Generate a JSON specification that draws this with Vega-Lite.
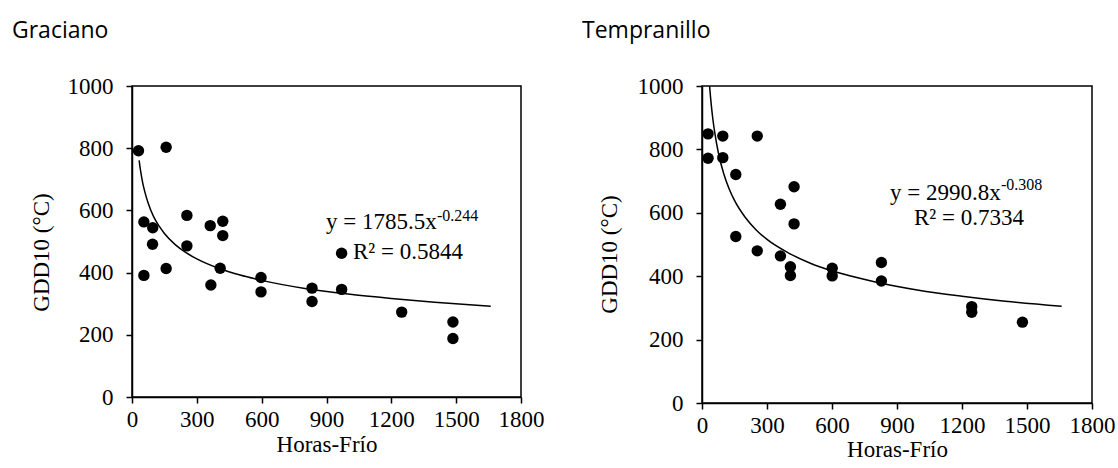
{
 "$schema": "https://vega.github.io/schema/vega-lite/v6.json",
 "autosize": {"type": "pad"},
 "padding": {"left": 11, "top": 19, "right": 0, "bottom": 0},
 "bounds": "flush",
 "spacing": 181,
 "config": {
  "view": {"stroke": "#000", "strokeWidth": 1.5},
  "axis": {"domainColor": "#000", "domainWidth": 1.5, "tickColor": "#000", "tickWidth": 1.5, "tickSize": 6,
   "labelFont": "Liberation Serif", "labelFontSize": 23, "labelColor": "#000", "labelPadding": 13,
   "titleFont": "Liberation Serif", "titleFontSize": 23, "titleFontWeight": "normal", "titleColor": "#000",
   "grid": false, "labelFlush": false, "labelOverlap": false, "format": "d"},
  "axisX": {"labelPadding": 5},
  "title": {"font": "Open Sans", "fontSize": 23, "fontWeight": "normal", "color": "#000", "anchor": "start", "frame": "group", "baseline": "alphabetic", "offset": 32, "dx": -120},
  "text": {"font": "Liberation Serif", "fontSize": 23, "color": "#000"}
 },
 "datasets": {
  "one": [{}],
  "gra_pts": [
   {"horas": 30, "gdd": 792}, {"horas": 158, "gdd": 803}, {"horas": 55, "gdd": 563}, {"horas": 96, "gdd": 544},
   {"horas": 95, "gdd": 491}, {"horas": 55, "gdd": 391}, {"horas": 158, "gdd": 413}, {"horas": 254, "gdd": 584},
   {"horas": 254, "gdd": 486}, {"horas": 362, "gdd": 551}, {"horas": 420, "gdd": 565}, {"horas": 420, "gdd": 519},
   {"horas": 365, "gdd": 360}, {"horas": 408, "gdd": 414}, {"horas": 597, "gdd": 384}, {"horas": 597, "gdd": 338},
   {"horas": 833, "gdd": 350}, {"horas": 833, "gdd": 307}, {"horas": 970, "gdd": 346}, {"horas": 970, "gdd": 462},
   {"horas": 1248, "gdd": 273}, {"horas": 1485, "gdd": 241}, {"horas": 1485, "gdd": 188}
  ],
  "tem_pts": [
   {"horas": 28, "gdd": 849}, {"horas": 28, "gdd": 772}, {"horas": 96, "gdd": 842}, {"horas": 96, "gdd": 774},
   {"horas": 156, "gdd": 721}, {"horas": 156, "gdd": 525}, {"horas": 255, "gdd": 842}, {"horas": 255, "gdd": 480},
   {"horas": 362, "gdd": 627}, {"horas": 425, "gdd": 682}, {"horas": 425, "gdd": 565}, {"horas": 362, "gdd": 464},
   {"horas": 408, "gdd": 430}, {"horas": 408, "gdd": 402}, {"horas": 601, "gdd": 425}, {"horas": 601, "gdd": 401},
   {"horas": 828, "gdd": 443}, {"horas": 828, "gdd": 385}, {"horas": 1245, "gdd": 304}, {"horas": 1245, "gdd": 286},
   {"horas": 1479, "gdd": 255}
  ],
  "gra_fit": [
   {"horas": 33, "gdd": 761}, {"horas": 40, "gdd": 726}, {"horas": 50, "gdd": 687}, {"horas": 60, "gdd": 658},
   {"horas": 75, "gdd": 623}, {"horas": 100, "gdd": 580}, {"horas": 125, "gdd": 550}, {"horas": 150, "gdd": 526},
   {"horas": 200, "gdd": 490}, {"horas": 250, "gdd": 464}, {"horas": 300, "gdd": 444}, {"horas": 400, "gdd": 414},
   {"horas": 500, "gdd": 392}, {"horas": 600, "gdd": 375}, {"horas": 800, "gdd": 349}, {"horas": 1000, "gdd": 331},
   {"horas": 1200, "gdd": 317}, {"horas": 1400, "gdd": 305}, {"horas": 1660, "gdd": 292}
  ],
  "tem_fit": [
   {"horas": 35, "gdd": 1000}, {"horas": 40, "gdd": 960}, {"horas": 50, "gdd": 896}, {"horas": 60, "gdd": 848},
   {"horas": 75, "gdd": 791}, {"horas": 100, "gdd": 724}, {"horas": 125, "gdd": 676}, {"horas": 150, "gdd": 639},
   {"horas": 200, "gdd": 585}, {"horas": 250, "gdd": 546}, {"horas": 300, "gdd": 516}, {"horas": 400, "gdd": 473},
   {"horas": 500, "gdd": 441}, {"horas": 600, "gdd": 417}, {"horas": 800, "gdd": 382}, {"horas": 1000, "gdd": 356},
   {"horas": 1200, "gdd": 337}, {"horas": 1400, "gdd": 321}, {"horas": 1660, "gdd": 305}
  ]
 },
 "hconcat": [
  {
   "title": "Graciano",
   "width": 389,
   "height": 311,
   "layer": [
    {
     "data": {"name": "gra_fit"},
     "mark": {"type": "line", "color": "#000", "strokeWidth": 1.5, "interpolate": "monotone"},
     "encoding": {
      "x": {"field": "horas", "type": "quantitative", "scale": {"domain": [0, 1800], "nice": false},
       "axis": {"values": [0, 300, 600, 900, 1200, 1500, 1800], "title": "Horas-Frío", "titleY": 54, "titleBaseline": "alphabetic"}},
      "y": {"field": "gdd", "type": "quantitative", "scale": {"domain": [0, 1000], "nice": false},
       "axis": {"values": [0, 200, 400, 600, 800, 1000], "title": "GDD10 (°C)", "titleX": -91, "titleY": 166, "titleAngle": 270, "titleAlign": "center", "titleBaseline": "middle"}}
     }
    },
    {
     "data": {"name": "gra_pts"},
     "mark": {"type": "circle", "color": "#000", "size": 130, "opacity": 1},
     "encoding": {
      "x": {"field": "horas", "type": "quantitative"},
      "y": {"field": "gdd", "type": "quantitative"}
     }
    },
    {
     "data": {"name": "one"},
     "mark": {"type": "text", "text": "y = 1785.5x", "align": "left", "baseline": "middle"},
     "encoding": {"x": {"datum": 898, "type": "quantitative"}, "y": {"datum": 563, "type": "quantitative"}}
    },
    {
     "data": {"name": "one"},
     "mark": {"type": "text", "text": "-0.244", "align": "left", "baseline": "middle", "fontSize": 16},
     "encoding": {"x": {"datum": 1411, "type": "quantitative"}, "y": {"datum": 582, "type": "quantitative"}}
    },
    {
     "data": {"name": "one"},
     "mark": {"type": "text", "text": "R² = 0.5844", "align": "center", "baseline": "middle"},
     "encoding": {"x": {"datum": 1277, "type": "quantitative"}, "y": {"datum": 466, "type": "quantitative"}}
    }
   ]
  },
  {
   "title": "Tempranillo",
   "width": 390,
   "height": 317,
   "layer": [
    {
     "data": {"name": "tem_fit"},
     "mark": {"type": "line", "color": "#000", "strokeWidth": 1.5, "interpolate": "monotone"},
     "encoding": {
      "x": {"field": "horas", "type": "quantitative", "scale": {"domain": [0, 1800], "nice": false},
       "axis": {"values": [0, 300, 600, 900, 1200, 1500, 1800], "title": "Horas-Frío", "titleY": 53, "titleBaseline": "alphabetic"}},
      "y": {"field": "gdd", "type": "quantitative", "scale": {"domain": [0, 1000], "nice": false},
       "axis": {"values": [0, 200, 400, 600, 800, 1000], "title": "GDD10  (°C)", "titleX": -93, "titleY": 168, "titleAngle": 270, "titleAlign": "center", "titleBaseline": "middle"}}
     }
    },
    {
     "data": {"name": "tem_pts"},
     "mark": {"type": "circle", "color": "#000", "size": 130, "opacity": 1},
     "encoding": {
      "x": {"field": "horas", "type": "quantitative"},
      "y": {"field": "gdd", "type": "quantitative"}
     }
    },
    {
     "data": {"name": "one"},
     "mark": {"type": "text", "text": "y = 2990.8x", "align": "left", "baseline": "middle"},
     "encoding": {"x": {"datum": 868, "type": "quantitative"}, "y": {"datum": 662, "type": "quantitative"}}
    },
    {
     "data": {"name": "one"},
     "mark": {"type": "text", "text": "-0.308", "align": "left", "baseline": "middle", "fontSize": 16},
     "encoding": {"x": {"datum": 1380, "type": "quantitative"}, "y": {"datum": 688, "type": "quantitative"}}
    },
    {
     "data": {"name": "one"},
     "mark": {"type": "text", "text": "R² = 0.7334", "align": "center", "baseline": "middle"},
     "encoding": {"x": {"datum": 1232, "type": "quantitative"}, "y": {"datum": 583, "type": "quantitative"}}
    }
   ]
  }
 ]
}
